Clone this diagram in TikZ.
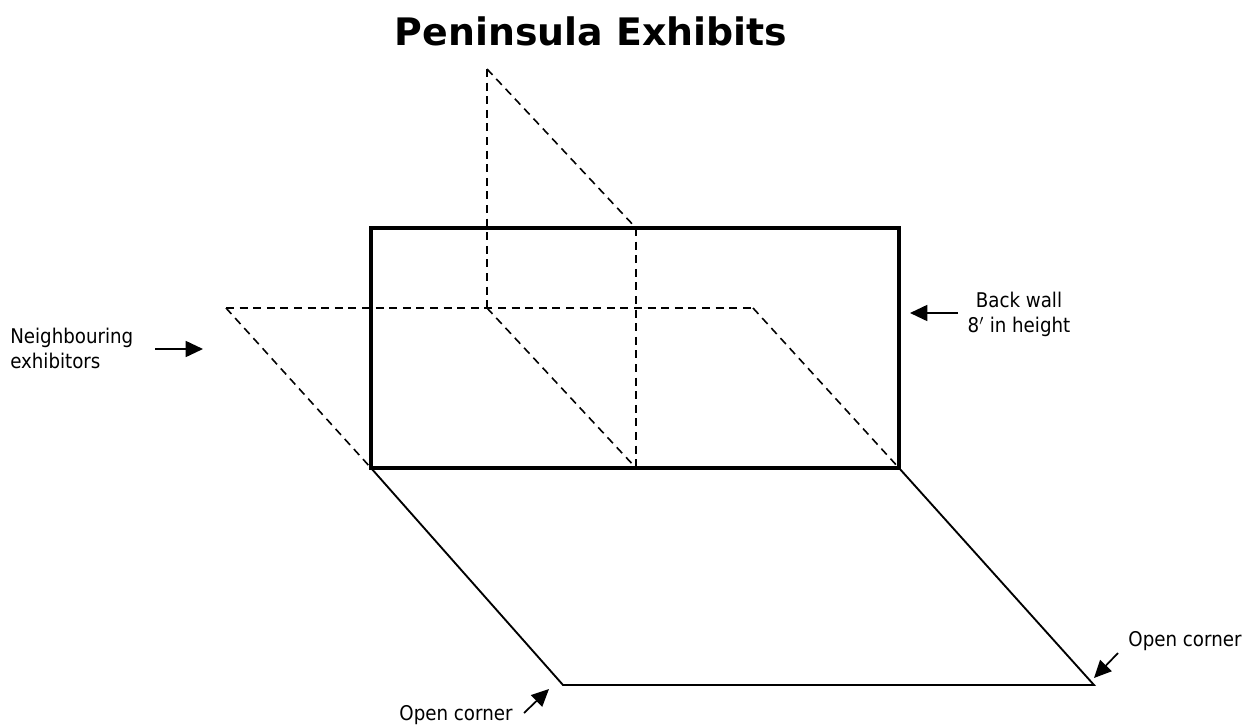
\documentclass[tikz,border=0pt]{standalone}
\usepackage{fontspec}
\setmainfont{DejaVu Sans Condensed}
\newfontfamily\titlefont{DejaVu Sans}
\usetikzlibrary{arrows.meta}
\tikzset{
  wall/.style={line width=2.4pt,line cap=rect},
  floorline/.style={line width=1.4pt,line cap=round},
  dashline/.style={line width=1.2pt,dash pattern=on 6pt off 4.2pt},
  pointer/.style={line width=1.3pt,-{Stealth[length=13pt,width=12pt,inset=0pt]}},
  lbl/.style={inner sep=0pt,font=\fontsize{15.2}{18.75}\selectfont,align=left,text=black},
  lblc/.style={lbl,align=center}
}
\begin{document}
\begin{tikzpicture}[x=0.75pt,y=-0.75pt]
\useasboundingbox (0,0) rectangle (1254,725);
\fill[white] (0,0) rectangle (1254,725);
% named corners
\coordinate (wallTL) at (371,228);
\coordinate (wallTR) at (899,228);
\coordinate (wallBL) at (371,468);
\coordinate (wallBR) at (899,468);
\coordinate (floorFL) at (563,685);
\coordinate (floorFR) at (1094,685);
\coordinate (apex) at (487,69);
\coordinate (midtop) at (636,228);
\coordinate (midbot) at (636,468);
\coordinate (crossC) at (487,308);
\coordinate (crossL) at (226,308);
\coordinate (crossR) at (753,308);
% dashed planes
\draw[dashline] (apex) -- (crossC);
\draw[dashline] (apex) -- (midtop);
\draw[dashline] (midtop) -- (midbot);
\draw[dashline] (crossL) -- (crossR);
\draw[dashline] (crossL) -- (wallBL);
\draw[dashline] (crossC) -- (midbot);
\draw[dashline] (crossR) -- (wallBR);
% back wall and floor
\draw[wall] (wallTL) rectangle (wallBR);
\draw[floorline] (wallBL) -- (floorFL) -- (floorFR) -- (wallBR);
% title
\node[inner sep=0pt,font=\titlefont\bfseries\fontsize{28.4}{32}\selectfont] (title) at (591,31) {Peninsula Exhibits};
% labels
\node[lblc] (backwall) at (1019,314) {Back wall\\8$'$ in height};
\node[lbl,anchor=west] (neigh) at (10,348) {Neighbouring\\exhibitors};
\node[lbl] (opena) at (456,715) {Open corner};
\node[lbl] (openb) at (1185,641) {Open corner};
% pointers
\coordinate (p1s) at (958,313); \coordinate (p1e) at (910,313);
\coordinate (p2s) at (155,349); \coordinate (p2e) at (203,349);
\coordinate (p3s) at (524,713); \coordinate (p3e) at (549,689);
\coordinate (p4s) at (1118,653); \coordinate (p4e) at (1094,678);
\draw[pointer] (p1s) -- (p1e);
\draw[pointer] (p2s) -- (p2e);
\draw[pointer] (p3s) -- (p3e);
\draw[pointer] (p4s) -- (p4e);
\end{tikzpicture}
\end{document}
